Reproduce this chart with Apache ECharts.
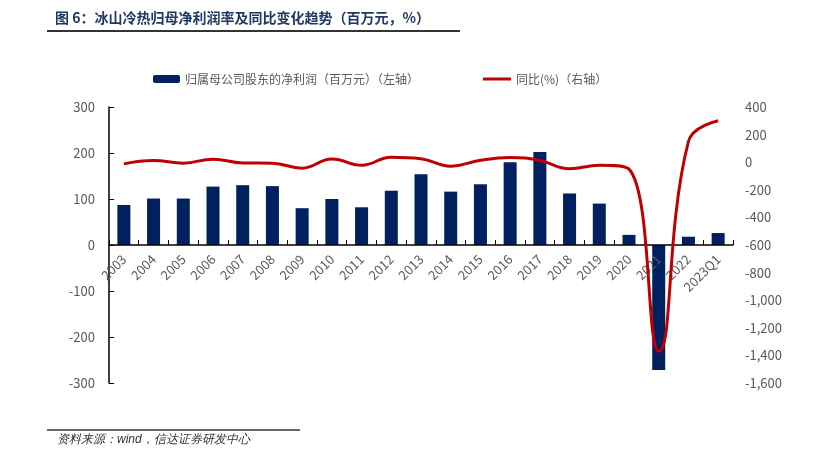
<!DOCTYPE html>
<html><head><meta charset="utf-8">
<script src="https://cdn.jsdelivr.net/npm/echarts@6/dist/echarts.min.js"></script>
<style>html,body{margin:0;padding:0;background:#fff}#c{width:816px;height:458px}</style>
</head><body><div id="c"></div>
<script>
var categories = ['2003','2004','2005','2006','2007','2008','2009','2010','2011','2012','2013','2014','2015','2016','2017','2018','2019','2020','2021','2022','2023Q1'];
var netProfit = [87,101,101,127,130,128,80,100,82,118,154,116,132,180,202,112,90,22,-272,18,26];
var yoy = [-12,12,-7,22,-5,-7,-43,24,-22,36,25,-29,14,34,12,-48,-22,-50,-1370,150,300];
var barName = '归属母公司股东的净利润（百万元）（左轴）';
var lineName = '同比(%)（右轴）';
var titleText = '图 6：冰山冷热归母净利润率及同比变化趋势（百万元，%）';
var sourceText = '资料来源：wind，信达证券研发中心';

var chart = echarts.init(document.getElementById('c'));
var gray = '#595959';
var font = '"Noto Sans CJK SC", "Noto Sans", sans-serif';
var gridTop = 107, gridBottom = 75, plotH = 458 - gridTop - gridBottom;
// position of zero on the left axis (min -300, max 300)
var zeroOffset = -plotH * (0 - (-300)) / 600;
chart.setOption({
  animation: false,
  textStyle: {fontFamily: font},
  title: {text: titleText, left: 50, top: 6, textStyle: {fontSize: 14, fontWeight: 'bold', color: '#1F3864', fontFamily: font}},
  graphic: [
    {type: 'line', shape: {x1: 47, y1: 31, x2: 460, y2: 31}, style: {stroke: '#333', lineWidth: 2}},
    {type: 'line', shape: {x1: 47, y1: 430, x2: 300, y2: 430}, style: {stroke: '#333', lineWidth: 1.5}},
    {type: 'text', left: 57, top: 434, style: {text: sourceText, fontSize: 12, fontStyle: 'italic', fill: '#333', font: 'italic 12px ' + font}}
  ],
  legend: [
    {data: [barName], left: 148, top: 68, itemWidth: 27, itemHeight: 8, itemGap: 5, textStyle: {color: gray, fontSize: 12}},
    {data: [{name: lineName, icon: 'path://M0,0 L28,0 L28,3 L0,3 Z'}], left: 478, top: 68, itemWidth: 28, itemHeight: 8, textStyle: {color: gray, fontSize: 12}}
  ],
  grid: {left: 109, right: 83, top: gridTop, bottom: gridBottom, containLabel: false},
  xAxis: {
    type: 'category', data: categories, position: 'bottom', offset: zeroOffset, z: 5,
    axisLine: {onZero: false, lineStyle: {color: '#000', width: 1.5}},
    axisTick: {show: true, inside: true, length: 5, lineStyle: {color: '#000'}},
    axisLabel: {rotate: 45, color: gray, fontSize: 13, interval: 0, margin: 12}
  },
  yAxis: [
    {type: 'value', min: -300, max: 300, interval: 100, position: 'left',
     axisLine: {show: true, lineStyle: {color: '#000', width: 1.5}},
     axisTick: {show: true, inside: true, length: 5, lineStyle: {color: '#000'}},
     splitLine: {show: false},
     axisLabel: {color: gray, fontSize: 13, margin: 14}},
    {type: 'value', min: -1600, max: 400, interval: 200, position: 'right',
     axisLine: {show: false}, axisTick: {show: false}, splitLine: {show: false},
     axisLabel: {color: gray, fontSize: 13, margin: 12,
       formatter: function(v){ return v.toLocaleString('en-US'); }}}
  ],
  series: [
    {name: barName, type: 'bar', data: netProfit, yAxisIndex: 0, barWidth: 13, z: 2,
     itemStyle: {color: '#002060'}},
    {name: lineName, type: 'line', data: yoy, yAxisIndex: 1, smooth: 0.45, symbol: 'none', z: 6,
     lineStyle: {color: '#C00000', width: 3}, itemStyle: {color: '#C00000'}}
  ]
});
</script></body></html>
